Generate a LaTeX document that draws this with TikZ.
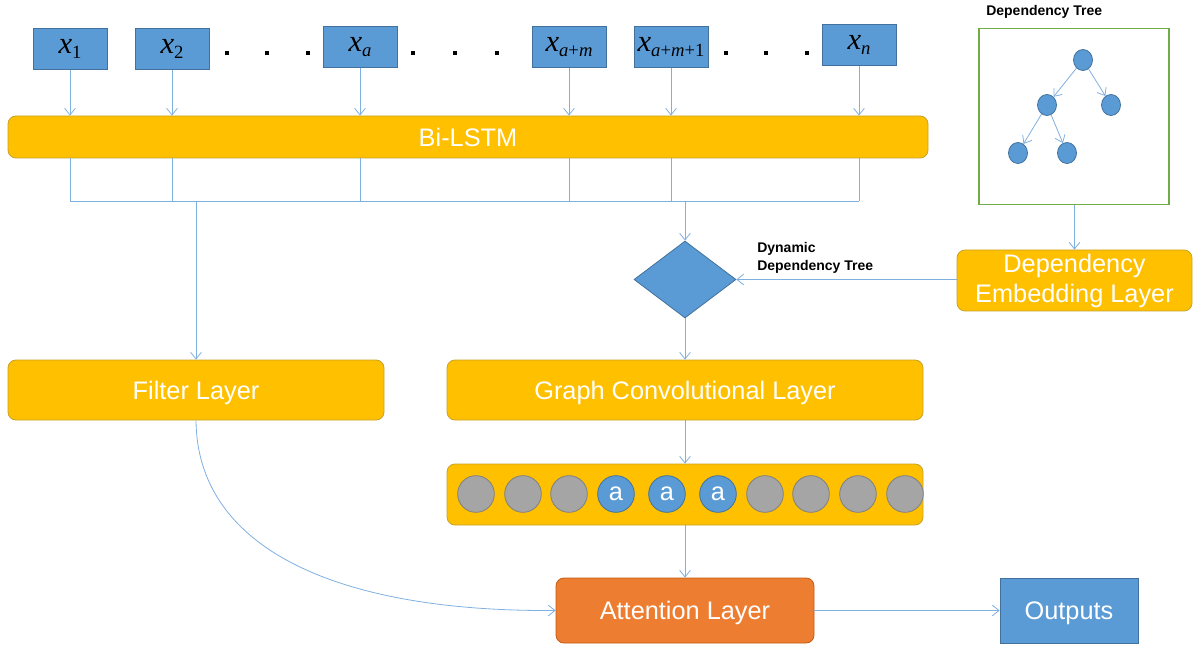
\documentclass[tikz,border=0pt]{standalone}
\usepackage[no-math]{fontspec}
\setmainfont{Liberation Sans}
\newfontfamily\tnr{Liberation Serif}
\usetikzlibrary{arrows.meta,shapes.geometric}
\definecolor{ygold}{HTML}{FFC000}
\definecolor{ygoldb}{HTML}{C9A227}
\definecolor{bblue}{HTML}{5B9BD5}
\definecolor{bblueb}{HTML}{41719C}
\definecolor{lline}{HTML}{7EB0E0}
\definecolor{gbox}{HTML}{70AD47}
\definecolor{orng}{HTML}{ED7D31}
\definecolor{orngb}{HTML}{C55A11}
\definecolor{gcirc}{HTML}{A5A5A5}
\definecolor{gcircb}{HTML}{7F7F7F}
\newcommand{\xv}[1]{{\tnr\fontsize{23}{23}\selectfont\itshape x}\raisebox{-0.6ex}{\tnr\fontsize{14}{14}\selectfont #1}}
\begin{document}
\begin{tikzpicture}[x=0.75pt,y=-0.75pt,
  inbox/.style={draw=bblueb,fill=bblue,minimum width=55.5pt,minimum height=30.75pt,inner sep=0pt,line width=0.6pt},
  layer/.style={draw=ygoldb,fill=ygold,rounded corners=6pt,text=white,font=\fontsize{19}{22}\selectfont,inner sep=0pt,line width=0.6pt,align=center},
  onel/.style={text depth=0pt},
  conn/.style={draw=lline,line width=0.6pt},
  arr/.style={conn,-{Straight Barb[length=5pt,width=8pt]}},
  dot/.style={fill=black,minimum size=3.6pt,inner sep=0pt},
  gc/.style={circle,draw=gcircb,fill=gcirc,minimum size=27.5pt,inner sep=0pt,line width=0.6pt},
  bc/.style={circle,draw=bblueb,fill=bblue,minimum size=27.5pt,inner sep=0pt,line width=0.6pt,text=white,font=\fontsize{19}{19}\selectfont,text depth=0pt},
  tn/.style={ellipse,draw=bblueb,fill=bblue,minimum width=14.25pt,minimum height=15.75pt,inner sep=0pt,line width=0.6pt},
  small/.style={font=\bfseries\fontsize{10.5}{13.5}\selectfont,align=left,inner sep=0pt}]
\useasboundingbox (0,0) rectangle (1196,645);
% inputs
\node[inbox] (x1) at (70,49) {\xv{1}};
\node[inbox] (x2) at (172,49) {\xv{2}};
\node[inbox] (xa) at (360,47) {\xv{\textit{a}}};
\node[inbox] (xam) at (569,47) {\xv{\textit{a}+\textit{m}}};
\node[inbox] (xam1) at (671,47) {\xv{\textit{a}+\textit{m}+1}};
\node[inbox] (xn) at (859,45) {\xv{\textit{n}}};
\node[dot] (d1) at (227,53) {};
\node[dot] (d2) at (267,53) {};
\node[dot] (d3) at (308,53) {};
\node[dot] (d4) at (413,53) {};
\node[dot] (d5) at (455,53) {};
\node[dot] (d6) at (497,53) {};
\node[dot] (d7) at (726,53) {};
\node[dot] (d8) at (766,53) {};
\node[dot] (d9) at (807,53) {};
% Bi-LSTM
\node[layer,onel,minimum width=690pt,minimum height=31.5pt] (bilstm) at (468,137) {Bi-LSTM};
\coordinate (bus) at (0,201);
\foreach \n in {x1,x2,xa,xam,xam1,xn}{
  \draw[arr] (\n.south) -- (\n.south |- bilstm.north);
  \draw[conn] (\n.south |- bilstm.south) -- (\n.south |- bus);
}
\draw[conn] (x1.south |- bus) -- (xn.south |- bus);
% layers
\node[layer,onel,minimum width=282pt,minimum height=45pt] (filter) at (196,390) {Filter Layer};
\node[layer,onel,minimum width=357pt,minimum height=45pt] (gcl) at (685,390) {Graph Convolutional Layer};
\node[diamond,draw=bblueb,fill=bblue,minimum width=76.5pt,minimum height=57.75pt,inner sep=0pt,line width=0.6pt] (dia) at (685,279.5) {};
\node[layer,minimum width=176.25pt,minimum height=45.75pt,font=\fontsize{19}{22.5}\selectfont] (del) at (1074.5,280.5) {Dependency\\Embedding Layer};
\draw[arr] (filter.north |- bus) -- (filter.north);
\draw[arr] (dia.north |- bus) -- (dia.north);
\draw[arr] (del.west |- dia.east) -- (dia.east);
\node[small,anchor=west] (dyn) at (757,258) {Dynamic\\Dependency Tree};
\draw[arr] (dia.south) -- (gcl.north);
% circles
\node[layer,minimum width=357pt,minimum height=45.75pt] (cbox) at (685,494.5) {};
\node[gc] (c1) at (476,494) {};
\node[gc] (c2) at (523,494) {};
\node[gc] (c3) at (569,494) {};
\node[bc] (c4) at (616,494) {a};
\node[bc] (c5) at (667,494) {a};
\node[bc] (c6) at (718,494) {a};
\node[gc] (c7) at (765,494) {};
\node[gc] (c8) at (811,494) {};
\node[gc] (c9) at (858,494) {};
\node[gc] (c10) at (905,494) {};
\draw[arr] (gcl.south) -- (cbox.north);
% attention / outputs
\node[draw=orngb,fill=orng,rounded corners=6pt,text=white,font=\fontsize{19}{22}\selectfont,text depth=0pt,minimum width=193.5pt,minimum height=48.75pt,inner sep=0pt,line width=0.6pt] (attn) at (685,610.5) {Attention Layer};
\node[draw=bblueb,fill=bblue,text=white,font=\fontsize{19}{22}\selectfont,text depth=0pt,minimum width=103.5pt,minimum height=48.75pt,inner sep=0pt,line width=0.6pt] (out) at (1069,610.5) {Outputs};
\draw[arr] (cbox.south) -- (attn.north);
\draw[arr] (attn.east) -- (out.west);
\draw[arr] (filter.south) .. controls (197,545) and (330,612) .. (attn.west);
% dependency tree
\node[small,anchor=west] (dtt) at (986,12) {Dependency Tree};
\node[draw=gbox,line width=0.8pt,minimum width=142.5pt,minimum height=132pt,inner sep=0pt] (dtree) at (1074,116.5) {};
\node[tn] (t0) at (1083,60) {};
\node[tn] (t1) at (1047,105) {};
\node[tn] (t2) at (1111,105) {};
\node[tn] (t3) at (1018,153) {};
\node[tn] (t4) at (1067,153) {};
\draw[arr] (t0) -- (t1);
\draw[arr] (t0) -- (t2);
\draw[arr] (t1) -- (t3);
\draw[arr] (t1) -- (t4);
\draw[arr] (dtree.south -| del.north) -- (del.north);
\end{tikzpicture}
\end{document}
